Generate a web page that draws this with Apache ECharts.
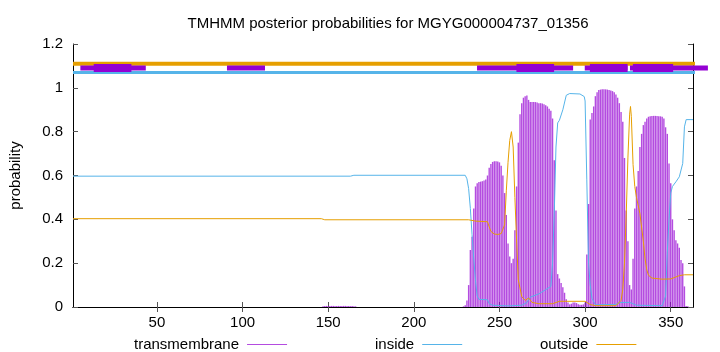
<!DOCTYPE html>
<html><head><meta charset="utf-8">
<script src="https://cdn.jsdelivr.net/npm/echarts@6/dist/echarts.min.js"></script>
<style>html,body{margin:0;padding:0;background:#fff}#c{width:720px;height:352px}</style>
</head><body><div id="c"></div>
<script>
// ---------------- data ----------------
const titleText = 'TMHMM posterior probabilities for MGYG000004737_01356';
const seqStart = 1;
const seqEnd = 363;
const xTickValues = [50, 100, 150, 200, 250, 300, 350];
const seriesNames = ['transmembrane', 'inside', 'outside'];

// transmembrane posterior per residue
const tmBlipStart = 147;
const tmBlip = [0.003,0.004,0.005,0.005,0.005,0.005,0.005,0.005,0.005,0.005,
                0.005,0.005,0.005,0.005,0.005,0.005,0.004,0.004,0.003,0.003];
const tmStart = 229;
const tmValues = [
  0.003,0.008,0.03,0.10,0.26,0.32,0.45,0.55,0.565,0.57,          // 229-238
  0.572,0.574,0.577,0.582,0.60,0.635,0.652,0.662,0.665,0.665,    // 239-248
  0.664,0.66,0.645,0.60,0.52,0.42,0.29,0.23,0.20,0.22,           // 249-258
  0.35,0.55,0.75,0.88,0.93,0.955,0.962,0.965,0.945,0.935,        // 259-268
  0.935,0.935,0.935,0.933,0.93,0.93,0.928,0.925,0.92,0.915,      // 269-278
  0.905,0.895,0.86,0.67,0.44,0.15,0.13,0.11,0.09,0.065,          // 279-288
  0.035,0.02,0.012,0.015,0.02,0.02,0.018,0.012,0.01,0.01,        // 289-298
  0.012,0.02,0.24,0.47,0.855,0.885,0.915,0.962,0.98,0.99,        // 299-308
  0.992,0.993,0.993,0.993,0.992,0.99,0.988,0.985,0.98,0.97,      // 309-318
  0.955,0.93,0.89,0.845,0.68,0.44,0.30,0.10,0.08,0.22,           // 319-328
  0.45,0.55,0.62,0.73,0.79,0.83,0.845,0.86,0.868,0.87,           // 329-338
  0.872,0.872,0.872,0.872,0.87,0.87,0.868,0.86,0.82,0.79,        // 339-348
  0.655,0.565,0.40,0.35,0.305,0.29,0.27,0.215,0.20,0.094,        // 349-358
  0.005,0.003                                                    // 359-360
];

// inside posterior [residue, p]
const insidePoints = [
  [1,0.597],[163,0.597],[165,0.601],[230,0.601],[231,0.585],[232,0.54],[233,0.45],
  [234,0.33],[235,0.22],[236,0.12],[237,0.05],[238,0.035],[243,0.033],[244,0.015],
  [246,0.008],[255,0.005],[263,0.008],[266,0.02],[268,0.045],[273,0.06],[277,0.079],
  [280,0.094],[281,0.2],[282,0.43],[283,0.73],[284,0.84],[285,0.852],[287,0.9],
  [289,0.966],[291,0.974],[297,0.972],[299.5,0.96],[300,0.94],[301,0.58],[302,0.2],
  [303,0.1],[304,0.04],[306,0.01],[318,0.012],[320,0.02],[326,0.021],[330,0.008],
  [345,0.006],[347,0.05],[348,0.25],[349,0.4],[350,0.52],[351,0.55],[353,0.571],
  [355,0.594],[357,0.655],[358,0.822],[359,0.855],[363,0.855]
];

// outside posterior [residue, p]
const outsidePoints = [
  [1,0.403],[146,0.403],[148,0.398],[232,0.398],[233,0.394],[236,0.392],[243,0.389],
  [244,0.366],[245,0.345],[247,0.333],[249,0.331],[251,0.335],[252,0.344],[253,0.375],
  [254,0.53],[255,0.66],[256,0.76],[257,0.80],[258,0.73],[259,0.50],[260,0.306],
  [261,0.124],[263,0.048],[265,0.03],[266,0.026],[267,0.041],[269,0.021],[273,0.015],
  [281,0.015],[285,0.026],[300,0.026],[301,0.022],[303,0.011],[306,0.006],[318,0.006],
  [321,0.03],[322,0.08],[323,0.2],[324,0.42],[325,0.68],[326,0.88],[326.5,0.915],
  [327,0.87],[328,0.65],[329,0.55],[330,0.5],[332,0.427],[334,0.3],[335,0.22],
  [336,0.17],[337,0.145],[339,0.132],[345,0.127],[350,0.128],[355,0.143],[358,0.147],
  [363,0.147]
];

// topology band (residue spans)
const topoLevelOutside = 1.11;
const topoLevelInside = 1.07;
const topoLevelTM = 1.09;
const topoOutsideSpan = [1, 378.7];
const topoInsideSpan = [1, 378.7];
const topoThin = [[5.3,43.5],[90.9,113.1],[236.9,293],[299.8,324.8],[326.2,371.7]];
const topoThick = [[13.1,35.1],[259.9,281.9],[302.8,324.8],[327.9,351.4]];

// ---------------- chart ----------------
const PURPLE = '#9400d3', BLUE = '#56b4e9', ORANGE = '#e69f00';
const FONT = 'Liberation Sans, Arial, sans-serif';
const BAND_H = [5, 8]; // thin, thick (px)

const tmData = tmBlip.map((v, i) => [tmBlipStart + i, v])
  .concat(tmValues.map((v, i) => [tmStart + i, v]));
const bandData = topoThin.map(s => [s[0], s[1], 0]).concat(topoThick.map(s => [s[0], s[1], 1]));

const axisLineStyle = { lineStyle: { color: '#000', width: 1 } };
const tickStyle = { inside: true, length: 5, lineStyle: { color: '#555' } };
const legendText = { fontSize: 15, color: '#000', fontFamily: FONT, padding: [0, 3, 0, 0] };

const chart = echarts.init(document.getElementById('c'), null, { renderer: 'canvas' });
chart.setOption({
  animation: false,
  backgroundColor: '#fff',
  title: {
    text: titleText, left: 383, top: 11, textAlign: 'center',
    textStyle: { fontSize: 15, fontWeight: 'normal', color: '#000', fontFamily: FONT }
  },
  grid: { left: 73, right: 27, top: 44, bottom: 45, containLabel: false },
  legend: [
    { data: [seriesNames[0]], left: 129, top: 332, align: 'right', icon: 'rect', itemWidth: 40, itemHeight: 1,
      textStyle: legendText, selectedMode: false },
    { data: [seriesNames[1]], left: 370, top: 332, align: 'right', icon: 'rect', itemWidth: 40, itemHeight: 1,
      textStyle: legendText, selectedMode: false },
    { data: [seriesNames[2]], left: 535, top: 332, align: 'right', icon: 'rect', itemWidth: 40, itemHeight: 1,
      textStyle: legendText, selectedMode: false }
  ],
  xAxis: [
    { type: 'value', min: seqStart, max: seqEnd, position: 'bottom',
      axisLine: axisLineStyle, splitLine: { show: false },
      axisTick: Object.assign({ customValues: xTickValues }, tickStyle),
      axisLabel: { customValues: xTickValues, fontSize: 15, color: '#000', fontFamily: FONT, margin: 8 } },
    { type: 'value', min: seqStart, max: seqEnd, position: 'top',
      axisLine: axisLineStyle, splitLine: { show: false },
      axisTick: Object.assign({ customValues: xTickValues }, tickStyle),
      axisLabel: { show: false } }
  ],
  yAxis: [
    { type: 'value', min: 0, max: 1.2, interval: 0.2, position: 'left',
      name: 'probability', nameLocation: 'middle', nameRotate: 90, nameGap: 50,
      nameTextStyle: { fontSize: 15, color: '#000', fontFamily: FONT },
      axisLine: Object.assign({ show: true }, axisLineStyle), splitLine: { show: false },
      axisTick: tickStyle,
      axisLabel: { fontSize: 15, color: '#000', fontFamily: FONT, margin: 10 } },
    { type: 'value', min: 0, max: 1.2, interval: 0.2, position: 'right',
      axisLine: Object.assign({ show: true }, axisLineStyle), splitLine: { show: false },
      axisTick: tickStyle, axisLabel: { show: false } }
  ],
  series: [
    { type: 'bar', name: seriesNames[0], data: tmData, barWidth: 1.4, barGap: '-100%',
      itemStyle: { color: PURPLE, opacity: 0.7 }, xAxisIndex: 0, yAxisIndex: 0, z: 2, large: false },
    { type: 'line', name: seriesNames[1], data: insidePoints, showSymbol: false, symbol: 'none',
      lineStyle: { color: BLUE, width: 1 }, itemStyle: { color: BLUE }, z: 3 },
    { type: 'line', name: seriesNames[2], data: outsidePoints, showSymbol: false, symbol: 'none',
      lineStyle: { color: ORANGE, width: 1 }, itemStyle: { color: ORANGE }, z: 4 },
    { type: 'line', name: 'topoOutside', clip: false, silent: true, symbol: 'none', z: 5,
      data: [[topoOutsideSpan[0], topoLevelOutside], [topoOutsideSpan[1], topoLevelOutside]],
      lineStyle: { color: ORANGE, width: 4 } },
    { type: 'line', name: 'topoInside', clip: false, silent: true, symbol: 'none', z: 5,
      data: [[topoInsideSpan[0], topoLevelInside], [topoInsideSpan[1], topoLevelInside]],
      lineStyle: { color: BLUE, width: 3 } },
    { type: 'custom', name: 'topoTM', clip: false, silent: true, z: 10,
      xAxisIndex: 0, yAxisIndex: 0, data: bandData,
      dimensions: ['start', 'end', 'kind'],
      encode: { x: [0, 1], y: -1 },
      renderItem: function (params, api) {
        const a = api.coord([api.value(0), topoLevelTM]);
        const b = api.coord([api.value(1), topoLevelTM]);
        const h = BAND_H[api.value(2)];
        return { type: 'rect', z2: api.value(2),
                 shape: { x: a[0], y: a[1] - h / 2, width: b[0] - a[0], height: h },
                 style: { fill: PURPLE } };
      } }
  ]
});
</script>
</body></html>
